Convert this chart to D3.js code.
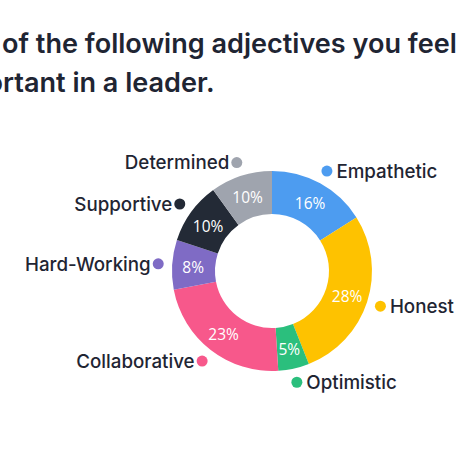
<!DOCTYPE html>
<html><head><meta charset="utf-8">
<script src="https://cdn.jsdelivr.net/npm/d3@7"></script>
<style>html,body{margin:0;padding:0;background:#fff;overflow:hidden}</style>
</head><body><svg id="c" width="461" height="461"></svg>
<script>
const categories = ["Empathetic","Honest","Optimistic","Collaborative","Hard-Working","Supportive","Determined"];
const values = [16,28,5,23,8,10,10];
const valueLabels = ["16%","28%","5%","23%","8%","10%","10%"];
const colors = ["#4d9cf0","#fec200","#2bbf7d","#f7588b","#7f6bc5","#232a36","#9fa4ae"];
const titleLines = ["of the following adjectives you feel","ortant in a leader."];

const svg = d3.select("#c");
const ink = "#1f2533";
const font = "Inter, 'Open Sans', sans-serif";

const title = svg.append("g").selectAll("text").data(titleLines).join("text")
  .attr("x", 2)
  .attr("y", (d,i) => 53 + i*38.5)
  .attr("font-family", font)
  .attr("font-weight", 600)
  .attr("font-size", 26)
  .attr("fill", ink)
  .text(d => d);
// fit title size to the reference width of the first line
const w0 = title.nodes()[0].getComputedTextLength();
const fs = 26 * 455 / w0;
title.attr("font-size", fs);
// second line: first glyph partly hidden at the left edge
const oW = (() => { const t = svg.append("text").attr("font-family",font).attr("font-weight",600).attr("font-size",fs).text("o"); const w = t.node().getComputedTextLength(); t.remove(); return w; })();
title.filter((d,i) => i === 1).attr("x", 3 - oW);

const cx = 272, cy = 271;
const g = svg.append("g").attr("transform", `translate(${cx},${cy})`);
const data = categories.map((c,i) => ({name:c, value:values[i], label:valueLabels[i], color:colors[i]}));
const pie = d3.pie().sort(null).value(d => d.value);
const arcs = pie(data);
const arc = d3.arc().innerRadius(57).outerRadius(100);
const labelArc = d3.arc().innerRadius(79).outerRadius(79);
const dotArc = d3.arc().innerRadius(114).outerRadius(114);

g.selectAll("path").data(arcs).join("path")
  .attr("d", arc).attr("fill", d => d.data.color);

g.selectAll("text.pct").data(arcs).join("text").attr("class","pct")
  .attr("transform", d => `translate(${labelArc.centroid(d)})`)
  .attr("text-anchor","middle").attr("dy","0.45em")
  .attr("font-family","'Open Sans', sans-serif").attr("font-size",15.5)
  .attr("fill","#fff").text(d => d.data.label);

const lab = g.selectAll("g.lab").data(arcs).join("g").attr("class","lab")
  .attr("transform", d => `translate(${dotArc.centroid(d)})`);
lab.append("circle").attr("r",5.5).attr("fill", d => d.data.color);
const lt = lab.append("text")
  .attr("x", d => ((d.startAngle+d.endAngle)/2 < Math.PI) ? 9.5 : -7.5)
  .attr("text-anchor", d => ((d.startAngle+d.endAngle)/2 < Math.PI) ? "start" : "end")
  .attr("dy","0.36em")
  .attr("font-family", font).attr("font-weight",500).attr("font-size",17)
  .attr("fill", ink).text(d => d.data.name);
const we = lt.nodes()[0].getComputedTextLength();
lt.attr("font-size", 17 * 101 / we);
</script></body></html>
